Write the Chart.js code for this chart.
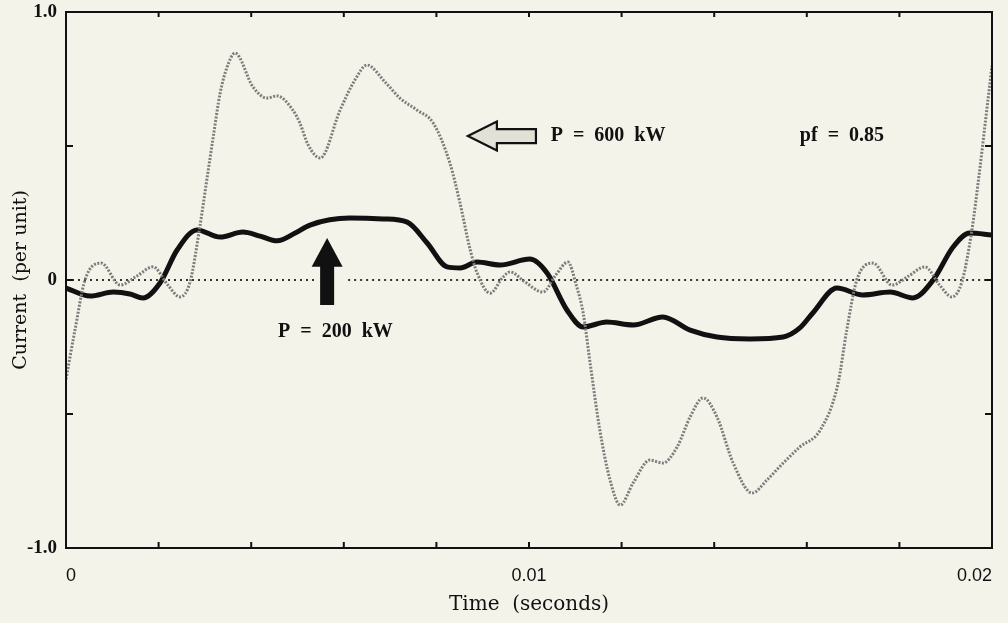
<!DOCTYPE html>
<html>
<head>
<meta charset="utf-8">
<script src="https://cdn.jsdelivr.net/npm/chart.js@4.4.1/dist/chart.umd.min.js"></script>
<style>
  html, body { margin: 0; padding: 0; background: #f4f3e9; }
  #wrap { width: 1008px; height: 623px; position: relative; }
</style>
</head>
<body>
<div id="wrap"><canvas id="c" width="1008" height="623"></canvas></div>
<script>
// ---- Data (time in milliseconds, current in per unit) ----
const t600 = [0, 0.19, 0.41, 0.76, 1.17, 1.53, 1.88, 2.20, 2.46, 2.68, 2.89, 3.05, 3.18, 3.33, 3.48, 3.65,
  4.04, 4.34, 4.56, 4.90, 5.05, 5.23, 5.49, 5.92, 6.24, 6.50, 6.89, 7.21, 7.58, 7.93, 8.29, 8.51, 8.73, 8.88,
  9.16, 9.44, 9.59, 9.91, 10.30, 10.58, 10.84, 11.02, 11.17, 11.32, 11.53, 11.75, 11.97, 12.25, 12.61, 12.89,
  13.20, 13.48, 13.76, 14.06, 14.41, 14.82, 15.14, 15.49, 15.85, 16.29, 16.67, 16.86, 17.08, 17.43, 17.84,
  18.20, 18.55, 18.87, 19.13, 19.35, 19.56, 19.72, 19.85, 20.0];
const i600 = [-0.37, -0.19, 0.0, 0.063, -0.019, 0.015, 0.049, -0.019, -0.063, -0.007, 0.198, 0.384, 0.534, 0.698, 0.795, 0.847,
  0.72, 0.679, 0.687, 0.634, 0.586, 0.504, 0.455, 0.634, 0.746, 0.802, 0.739, 0.679, 0.634, 0.586, 0.437, 0.287, 0.112, 0.026,
  -0.049, 0.011, 0.03, -0.007, -0.045, 0.019, 0.067, -0.019, -0.123, -0.31, -0.56, -0.746, -0.84, -0.757, -0.672, -0.683,
  -0.623, -0.511, -0.44, -0.511, -0.683, -0.795, -0.746, -0.683, -0.623, -0.56, -0.39, -0.19, 0.0, 0.063, -0.019,
  0.015, 0.049, -0.019, -0.063, -0.007, 0.18, 0.39, 0.58, 0.80];

const t200 = [0, 0.52, 1.02, 1.38, 1.66, 2.03, 2.40, 2.83, 3.33, 3.82, 4.19, 4.56, 4.95, 5.27, 6.13, 6.85, 7.37,
  7.80, 8.23, 8.51, 8.88, 9.37, 10.02, 10.39, 10.82, 11.17, 11.68, 12.25, 12.89, 13.48, 14.06, 14.77, 15.49,
  15.85, 16.13, 16.65, 17.21, 17.80, 18.29, 18.73, 19.16, 19.52, 20.0];
const i200 = [-0.03, -0.06, -0.045, -0.052, -0.067, -0.011, 0.112, 0.187, 0.16, 0.179, 0.164, 0.146, 0.175, 0.205, 0.231, 0.228, 0.216,
  0.138, 0.049, 0.045, 0.067, 0.056, 0.078, 0.026, -0.112, -0.175, -0.157, -0.168, -0.138, -0.187, -0.213, -0.22, -0.213,
  -0.179, -0.123, -0.03, -0.056, -0.045, -0.067, 0.0, 0.123, 0.175, 0.168];

const xTickLabels = {0: '0', 10: '0.01', 20: '0.02'};
const yTickLabels = {'-1': '-1.0', '0': '0', '1': '1.0'};

// annotation anchors (data coordinates)
const arrow200 = {t: 5.64, tip: 0.157, headBase: 0.049, tail: -0.093};
const arrow600 = {tip: 8.68, tail: 10.15, y: 0.537};
const labels = [
  {text: 'P  =  600  kW', t: 10.47, y: 0.537},
  {text: 'pf  =  0.85', t: 15.85, y: 0.537},
  {text: 'P  =  200  kW', t: 4.58, y: -0.194}
];

const toPts = (ts, vs) => ts.map((t, k) => ({x: t, y: vs[k]}));

const annot = {
  id: 'annot',
  beforeDatasetsDraw(chart) {
    const {ctx, chartArea: a, scales: {x, y}} = chart;
    const y0 = y.getPixelForValue(0);
    const gx = x.getPixelForValue(arrow200.t);
    ctx.save();
    ctx.strokeStyle = '#333';
    ctx.lineWidth = 2;
    ctx.setLineDash([2, 4]);
    ctx.beginPath();
    ctx.moveTo(a.left, y0); ctx.lineTo(gx - 12, y0);
    ctx.moveTo(gx + 21, y0); ctx.lineTo(a.right, y0);
    ctx.stroke();
    ctx.restore();
  },
  afterDatasetsDraw(chart) {
    const {ctx, chartArea: a, scales: {x, y}} = chart;
    ctx.save();
    // frame
    ctx.strokeStyle = '#111';
    ctx.lineWidth = 2;
    ctx.strokeRect(a.left, a.top, a.right - a.left, a.bottom - a.top);
    // inward ticks
    ctx.beginPath();
    for (let t = 0; t <= 20; t += 2) {
      const px = x.getPixelForValue(t);
      ctx.moveTo(px, a.bottom); ctx.lineTo(px, a.bottom - 6);
      ctx.moveTo(px, a.top); ctx.lineTo(px, a.top + 5);
    }
    for (let v = -1; v <= 1; v += 0.5) {
      const py = y.getPixelForValue(v);
      ctx.moveTo(a.left, py); ctx.lineTo(a.left + 7, py);
      ctx.moveTo(a.right, py); ctx.lineTo(a.right - 7, py);
    }
    ctx.stroke();

    // filled black arrow (P = 200 kW)
    const cx = x.getPixelForValue(arrow200.t);
    const tipY = y.getPixelForValue(arrow200.tip);
    const hb = y.getPixelForValue(arrow200.headBase);
    const tl = y.getPixelForValue(arrow200.tail);
    ctx.fillStyle = '#111';
    ctx.beginPath();
    ctx.moveTo(cx, tipY);
    ctx.lineTo(cx + 15.5, hb);
    ctx.lineTo(cx + 7, hb);
    ctx.lineTo(cx + 7, tl);
    ctx.lineTo(cx - 7, tl);
    ctx.lineTo(cx - 7, hb);
    ctx.lineTo(cx - 15.5, hb);
    ctx.closePath();
    ctx.fill();

    // outlined arrow (P = 600 kW)
    const tx = x.getPixelForValue(arrow600.tip);
    const ex = x.getPixelForValue(arrow600.tail);
    const ay = y.getPixelForValue(arrow600.y);
    ctx.beginPath();
    ctx.moveTo(tx, ay);
    ctx.lineTo(tx + 29, ay - 14.5);
    ctx.lineTo(tx + 29, ay - 7);
    ctx.lineTo(ex, ay - 7);
    ctx.lineTo(ex, ay + 7);
    ctx.lineTo(tx + 29, ay + 7);
    ctx.lineTo(tx + 29, ay + 14.5);
    ctx.closePath();
    ctx.fillStyle = '#e2e1d8';
    ctx.fill();
    ctx.lineWidth = 2.2;
    ctx.lineJoin = 'miter';
    ctx.strokeStyle = '#111';
    ctx.stroke();

    // text labels
    ctx.fillStyle = '#111';
    ctx.font = 'bold 20px "Liberation Serif", serif';
    ctx.textBaseline = 'middle';
    ctx.textAlign = 'left';
    labels.forEach(l => ctx.fillText(l.text, x.getPixelForValue(l.t), y.getPixelForValue(l.y)));
    ctx.restore();
  }
};

new Chart(document.getElementById('c'), {
  type: 'line',
  data: {
    datasets: [
      {
        label: 'P = 600 kW',
        data: toPts(t600, i600),
        borderColor: '#7c7c7c',
        borderWidth: 3,
        borderDash: [2, 1.5],
        pointRadius: 0,
        cubicInterpolationMode: 'monotone',
        fill: false
      },
      {
        label: 'P = 200 kW',
        data: toPts(t200, i200),
        borderColor: '#111',
        borderWidth: 5,
        pointRadius: 0,
        cubicInterpolationMode: 'monotone',
        fill: false
      }
    ]
  },
  options: {
    responsive: false,
    animation: false,
    layout: {padding: {top: 12, right: 16, left: 0, bottom: 0}},
    plugins: {legend: {display: false}, tooltip: {enabled: false}},
    scales: {
      x: {
        type: 'linear',
        min: 0, max: 20,
        grid: {display: false, drawTicks: false},
        border: {display: false},
        ticks: {
          stepSize: 2,
          autoSkip: false,
          maxRotation: 0,
          align: 'inner',
          padding: 17,
          color: '#111',
          font: {family: '"Liberation Sans", Arial, sans-serif', size: 18},
          callback: v => (xTickLabels[v] !== undefined ? xTickLabels[v] : '')
        },
        title: {
          display: true,
          text: 'Time  (seconds)',
          color: '#111',
          font: {family: '"DejaVu Serif", serif', size: 20},
          padding: {top: 0, bottom: 6}
        },
        afterFit: s => { s.height = 75; s.paddingLeft = 0; s.paddingRight = 0; }
      },
      y: {
        type: 'linear',
        min: -1, max: 1,
        grid: {display: false, drawTicks: false},
        border: {display: false},
        ticks: {
          stepSize: 0.5,
          autoSkip: false,
          padding: 9,
          color: '#111',
          font: {family: '"Liberation Serif", serif', size: 19, weight: 'bold'},
          callback: v => (yTickLabels[String(v)] !== undefined ? yTickLabels[String(v)] : '')
        },
        title: {
          display: true,
          text: 'Current  (per unit)',
          color: '#111',
          font: {family: '"DejaVu Serif", serif', size: 19},
          padding: {top: 10, bottom: 0}
        },
        afterFit: s => { s.width = 66; s.paddingTop = 0; s.paddingBottom = 0; }
      }
    }
  },
  plugins: [annot]
});
</script>
</body>
</html>
